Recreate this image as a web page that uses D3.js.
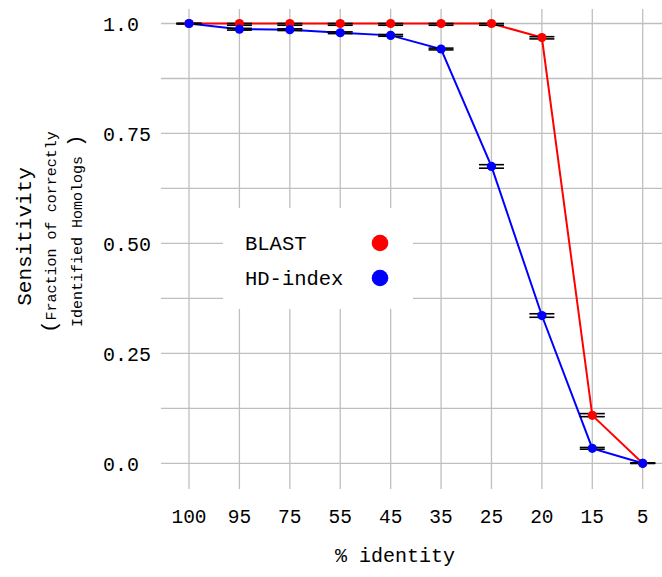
<!DOCTYPE html>
<html>
<head>
<meta charset="utf-8">
<script src="https://cdn.jsdelivr.net/npm/d3@7"></script>
<style>
  html, body { margin: 0; padding: 0; background: #fff; }
  svg { display: block; }
  text { font-family: "Liberation Mono", "DejaVu Sans Mono", monospace; fill: #000; }
</style>
</head>
<body>
<svg id="chart" width="662" height="577"></svg>
<script>
// Percent identity bins (x axis, categorical)
const identity = ["100", "95", "75", "55", "45", "35", "25", "20", "15", "5"];

// BLAST sensitivity: mean and error-bar bounds
const blastMean = [1.0, 1.0, 1.0, 1.0, 1.0, 1.0, 1.0, 0.968, 0.109, 0.0];
const blastLow  = [1.0, 0.996, 0.996, 0.996, 0.996, 0.996, 0.996, 0.965, 0.106, 0.0];
const blastHigh = [1.0, 1.0, 1.0, 1.0, 1.0, 1.0, 1.0, 0.970, 0.113, 0.0];

// HD-index sensitivity: mean and error-bar bounds
const hdMean = [1.0, 0.987, 0.986, 0.979, 0.973, 0.942, 0.675, 0.336, 0.034, 0.0];
const hdLow  = [0.999, 0.985, 0.984, 0.977, 0.971, 0.940, 0.671, 0.332, 0.032, 0.0];
const hdHigh = [1.0, 0.989, 0.988, 0.981, 0.975, 0.944, 0.679, 0.340, 0.036, 0.001];

// Y axis labels and grid breaks
const yTickValues = [0, 0.25, 0.5, 0.75, 1.0];
const yTickLabels = ["0.0", "0.25", "0.50", "0.75", "1.0"];
const yGridValues = [0, 0.125, 0.25, 0.375, 0.5, 0.625, 0.75, 0.875, 1.0];

const seriesNames = ["BLAST", "HD-index"];
const seriesColors = ["#ff0000", "#0000ff"];

const svg = d3.select("#chart");

const x = d3.scalePoint().domain(identity).range([189, 642.7]);
const y = d3.scaleLinear().domain([0, 1]).range([463.3, 23.5]);

const panel = { left: 161, right: 662, top: 9, bottom: 489 };
const gridColor = "#bfbfbf";

// Grid lines
const grid = svg.append("g");
grid.selectAll("line.h").data(yGridValues).join("line")
  .attr("x1", panel.left).attr("x2", panel.right)
  .attr("y1", d => y(d)).attr("y2", d => y(d))
  .attr("stroke", gridColor).attr("stroke-width", 1.3);
grid.selectAll("line.v").data(identity).join("line")
  .attr("x1", d => x(d)).attr("x2", d => x(d))
  .attr("y1", panel.top).attr("y2", panel.bottom)
  .attr("stroke", gridColor).attr("stroke-width", 1.3);

// Y tick labels (left aligned)
svg.append("g").selectAll("text").data(yTickValues).join("text")
  .attr("x", 103).attr("y", d => y(d))
  .attr("dy", "0.36em")
  .attr("font-size", 20)
  .text((d, i) => yTickLabels[i]);

// X tick labels
svg.append("g").selectAll("text").data(identity).join("text")
  .attr("x", d => x(d)).attr("y", 523)
  .attr("text-anchor", "middle")
  .attr("font-size", 19.5)
  .text(d => d);

// Axis titles
svg.append("text")
  .attr("x", 395).attr("y", 562)
  .attr("text-anchor", "middle")
  .attr("font-size", 20)
  .text("% identity");

svg.append("text")
  .attr("transform", "translate(31,236.5) rotate(-90)")
  .attr("text-anchor", "middle")
  .attr("font-size", 21)
  .text("Sensitivity");

const sub1 = svg.append("text").attr("transform", "translate(55.5,333) rotate(-90)");
sub1.append("tspan").attr("font-size", 21).text("(");
sub1.append("tspan").attr("font-size", 15).text("Fraction of correctly");

const sub2 = svg.append("text").attr("transform", "translate(81.5,327) rotate(-90)")
  .attr("xml:space", "preserve");
sub2.append("tspan").attr("font-size", 15).text("Identified Homologs\u00a0");
sub2.append("tspan").attr("font-size", 21).text(")");

// Legend box
const legend = svg.append("g");
legend.append("rect")
  .attr("x", 223).attr("y", 208).attr("width", 190).attr("height", 101)
  .attr("fill", "#fff");
seriesNames.forEach((name, i) => {
  const cy = 243 + i * 35;
  legend.append("text")
    .attr("x", 245).attr("y", cy).attr("dy", "0.36em")
    .attr("font-size", 20.5).text(name);
  legend.append("circle")
    .attr("cx", 380).attr("cy", cy).attr("r", 8.3)
    .attr("fill", seriesColors[i]);
});

// Data
const series = [
  { mean: blastMean, low: blastLow, high: blastHigh, color: seriesColors[0] },
  { mean: hdMean, low: hdLow, high: hdHigh, color: seriesColors[1] }
];

const line = d3.line().x((d, i) => x(identity[i])).y(d => y(d));

const plot = svg.append("g");
series.forEach(s => {
  plot.append("path").datum(s.mean)
    .attr("d", line)
    .attr("fill", "none")
    .attr("stroke", s.color)
    .attr("stroke-width", 2);
});

// Error bars (horizontal caps at the lower and upper bound)
const capHalf = 12.5;
series.forEach(s => {
  const g = plot.append("g");
  identity.forEach((cat, i) => {
    [s.low[i], s.high[i]].forEach(v => {
      g.append("line")
        .attr("x1", x(cat) - capHalf).attr("x2", x(cat) + capHalf)
        .attr("y1", y(v)).attr("y2", y(v))
        .attr("stroke", "#000").attr("stroke-width", 1.6);
    });
    g.append("line")
      .attr("x1", x(cat)).attr("x2", x(cat))
      .attr("y1", y(s.low[i])).attr("y2", y(s.high[i]))
      .attr("stroke", "#000").attr("stroke-width", 1.6);
  });
});

series.forEach(s => {
  plot.append("g").selectAll("circle").data(s.mean).join("circle")
    .attr("cx", (d, i) => x(identity[i]))
    .attr("cy", d => y(d))
    .attr("r", 4.6)
    .attr("fill", s.color);
});
</script>
</body>
</html>
